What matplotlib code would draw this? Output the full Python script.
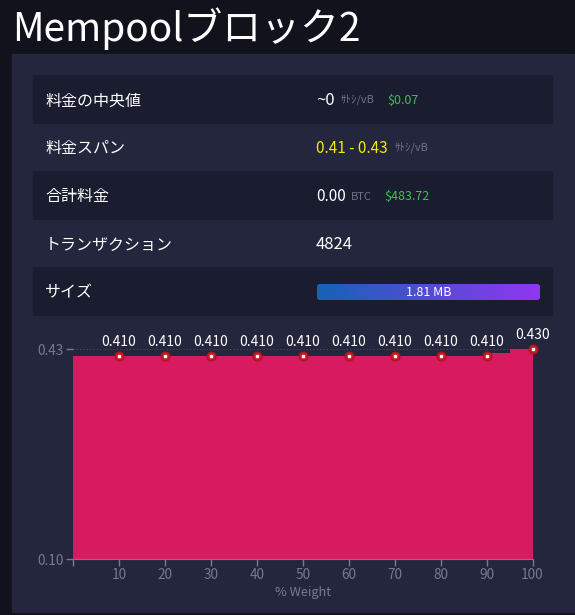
import numpy as np
import matplotlib.pyplot as plt
from matplotlib.patches import Rectangle, FancyBboxPatch
from matplotlib.colors import LinearSegmentedColormap

plt.rcParams['font.family'] = ['Noto Sans CJK JP', 'DejaVu Sans']

# data
title = 'Mempoolブロック2'
row_labels = ['料金の中央値', '料金スパン', '合計料金', 'トランザクション', 'サイズ']
median_fee = '~0'
median_fee_usd = '$0.07'
fee_span = '0.41 - 0.43'
total_fee_btc = '0.00'
total_fee_usd = '$483.72'
tx_count = '4824'
block_size = '1.81 MB'
fee_unit = 'ｻﾄｼ/vB'

# fee distribution (log scale)
fill_weights = [0, 90, 95, 100]
fill_fees = [0.41, 0.42, 0.43, 0.43]
point_weights = [10, 20, 30, 40, 50, 60, 70, 80, 90, 100]
point_fees = [0.41, 0.41, 0.41, 0.41, 0.41, 0.41, 0.41, 0.41, 0.41, 0.43]
x_ticks = [0, 10, 20, 30, 40, 50, 60, 70, 80, 90, 100]
y_ticks = [0.10, 0.43]

W, H = 575, 615
bg_outer = '#11121c'
bg_panel = '#24263d'
bg_row = '#1a1c2f'
grey = '#6e7189'
axis_grey = '#767990'
green = '#3bc44b'
yellow = '#f2e80c'


def fx(x):
    return x / W


def fy(y):
    return 1 - y / H


fig = plt.figure(figsize=(W / 100, H / 100), dpi=100)
fig.patch.set_facecolor(bg_outer)

# panel and table rows
fig.patches.append(Rectangle((fx(12), fy(612)), fx(574) - fx(12), fy(54) - fy(612),
                             transform=fig.transFigure, color=bg_panel, zorder=-2))
row_top = 75
row_h = 48
for i, lab in enumerate(row_labels):
    top = row_top + i * row_h
    if i % 2 == 0:
        fig.patches.append(Rectangle((fx(33), fy(top + row_h)), fx(552) - fx(33), row_h / H,
                                     transform=fig.transFigure, color=bg_row, zorder=-1))
    fig.text(fx(45), fy(top + row_h / 2 + 2), lab, color='white', fontsize=11.5,
             va='center', ha='left')

fig.text(fx(12), fy(29), title, color='white', fontsize=28, va='center', ha='left')

# row values
yc = [row_top + i * row_h + row_h / 2 + 1.5 for i in range(5)]
fig.text(fx(316), fy(yc[0]), median_fee, color='white', fontsize=12, va='center')
fig.text(fx(341), fy(yc[0]), fee_unit, color=grey, fontsize=8, va='center')
fig.text(fx(387), fy(yc[0]), median_fee_usd, color=green, fontsize=9, va='center')
fig.text(fx(316), fy(yc[1]), fee_span, color=yellow, fontsize=11, va='center')
fig.text(fx(395), fy(yc[1]), fee_unit, color=grey, fontsize=8, va='center')
fig.text(fx(316), fy(yc[2]), total_fee_btc, color='white', fontsize=11, va='center')
fig.text(fx(351), fy(yc[2]), 'BTC', color=grey, fontsize=8, va='center')
fig.text(fx(384), fy(yc[2]), total_fee_usd, color=green, fontsize=9, va='center')
fig.text(fx(316), fy(yc[3]), tx_count, color='white', fontsize=12, va='center')

# size bar with gradient
bar_ax = fig.add_axes([fx(317), fy(300), fx(540) - fx(317), (300 - 284) / H])
bar_ax.set_axis_off()
grad = np.linspace(0, 1, 256).reshape(1, -1)
cmap = LinearSegmentedColormap.from_list('sz', ['#1663b5', '#9136f2'])
im = bar_ax.imshow(grad, aspect='auto', cmap=cmap, extent=[0, 1, 0, 1])
clip = FancyBboxPatch((0, 0), 1, 1, boxstyle='round,pad=0,rounding_size=0.012',
                      mutation_aspect=223 / 16,
                      transform=bar_ax.transAxes, facecolor='none', edgecolor='none')
bar_ax.add_patch(clip)
im.set_clip_path(clip)
bar_ax.text(0.5, 0.45, block_size, color='white', fontsize=9, ha='center', va='center',
            transform=bar_ax.transAxes)

# fee chart
ax = fig.add_axes([fx(73), fy(559.3), fx(532.5) - fx(73), (559.3 - 349.3) / H])
ax.set_facecolor('none')
ax.set_yscale('log')
ax.fill_between(fill_weights, fill_fees, 0.1, step='post', color='#d81b60',
                linewidth=0, zorder=2)
ax.plot(point_weights, point_fees, 'o', color='#c41c26', markersize=6.5,
        markeredgecolor='#a8141e', markeredgewidth=0.8, zorder=4, clip_on=False)
ax.plot(point_weights, point_fees, 's', color='white', markersize=1.6, zorder=5,
        clip_on=False)
for xw, fv in zip(point_weights, point_fees):
    ax.annotate(f'{fv:.3f}', (xw, fv), xytext=(0, 5), textcoords='offset points',
                ha='center', va='bottom', color='white', fontsize=10)

ax.set_xlim(0, 100)
ax.set_ylim(0.10, 0.43)
ax.set_xticks(x_ticks)
ax.set_xticklabels([''] + [str(t) for t in x_ticks[1:]])
ax.set_yticks(y_ticks)
ax.set_yticklabels([f'{t:.2f}' for t in y_ticks])
ax.yaxis.set_minor_locator(plt.NullLocator())
ax.yaxis.set_minor_formatter(plt.NullFormatter())
ax.yaxis.grid(True, linestyle=(0, (1, 2)), color='#4a4d63', linewidth=0.8)
ax.set_axisbelow(True)
for s in ['top', 'right', 'left']:
    ax.spines[s].set_visible(False)
ax.spines['bottom'].set_color(axis_grey)
ax.tick_params(colors=axis_grey, labelsize=9.8, length=5, width=1)
ax.tick_params(axis='x', pad=1)
ax.tick_params(axis='y', pad=2)
ax.set_xlabel('% Weight', color=axis_grey, fontsize=9.2, labelpad=3)

fig.savefig('out.png', dpi=100, facecolor=fig.get_facecolor())
